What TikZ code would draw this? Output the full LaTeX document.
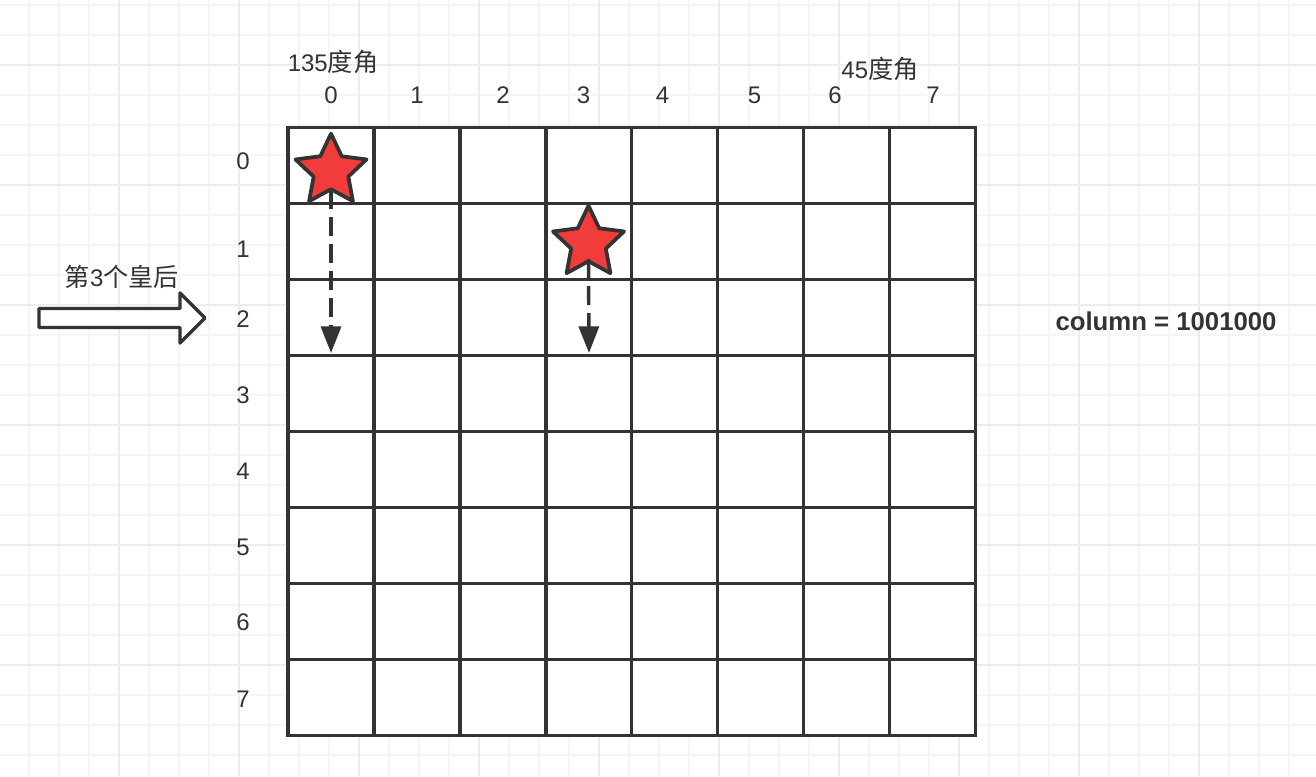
\documentclass[tikz,border=0pt]{standalone}
\usepackage{fontspec}
\setmainfont{Liberation Sans}
\newfontfamily\cjk[Scale=1.05]{Noto Sans CJK SC}
\usetikzlibrary{shapes.geometric,arrows.meta}
\definecolor{ink}{HTML}{333333}
\definecolor{starred}{HTML}{F23B3B}
\definecolor{gminor}{HTML}{F5F5F5}
\definecolor{gmajor}{HTML}{EDEDED}
\begin{document}
\begin{tikzpicture}[x=0.75pt,y=-0.75pt,
  lbl/.style={inner sep=0pt, text=ink, font=\fontsize{18}{21}\selectfont},
  boardline/.style={draw=ink, line width=2.6pt},
  queen/.style={star, star points=5, star point ratio=2.05, minimum size=56pt,
    inner sep=0pt, outer sep=0pt, draw=ink, fill=starred, line width=2.8pt, line join=round},
  dasharrow/.style={draw=ink, line width=2.6pt, dash pattern=on 14.25pt off 6pt,
    -{Triangle[length=20pt,width=15pt]}},
  hollow/.style={draw=ink, fill=white, line width=2.6pt, line join=round},
  bgminor/.style={draw=gminor, line width=1.5pt},
  bgmajor/.style={draw=gmajor, line width=1.5pt}]
\useasboundingbox (0,0) rectangle (1316,776);
\fill[white] (0,0) rectangle (1316,776);
% background grid
\foreach \x in {-1,29,...,1319} \draw[bgminor] (\x,0) -- (\x,776);
\foreach \y in {5,35,...,785} \draw[bgminor] (0,\y) -- (1316,\y);
\foreach \x in {-1,119,...,1199} \draw[bgmajor] (\x,0) -- (\x,776);
\foreach \y in {65,185,...,665} \draw[bgmajor] (0,\y) -- (1316,\y);
% board
\node[boardline, fill=white, minimum width=515.625pt, minimum height=456pt,
  inner sep=0pt, outer sep=0pt, anchor=north west] (board) at (288,127.5) {};
\foreach \i in {1,...,7} {
  \draw[boardline] (288+\i*85.9375,127.5) -- (288+\i*85.9375,735.5);
  \draw[boardline] (288,127.5+\i*76) -- (975.5,127.5+\i*76);
}
% labels
\node[lbl] (a135) at (333,62) {135{\cjk 度角}};
\node[lbl] (a45) at (880,69) {45{\cjk 度角}};
\foreach \n/\x in {0/331,1/417,2/503,3/583.5,4/662.5,5/754.5,6/835,7/933}
  \node[lbl] (c\n) at (\x,95) {\n};
\foreach \n/\y in {0/161.5,1/249,2/319,3/395,4/471,5/547,6/622,7/699}
  \node[lbl] (r\n) at (243,\y) {\n};
\node[lbl] (third) at (122,277) {{\cjk 第}3{\cjk 个皇后}};
\node[lbl, font=\fontsize{19.3}{22}\selectfont\bfseries] (col) at (1166,321) {column = 1001000};
% hollow arrow
\draw[hollow] (39,308.5) -- (180,308.5) -- (180,293) -- (205,318) -- (180,343)
  -- (180,327.5) -- (39,327.5) -- cycle;
% queens
\node[queen] (q0) at (331,171) {};
\node[queen] (q1) at (588.5,243) {};
\coordinate (t0) at (331,353);
\coordinate (t1) at (589,353);
\draw[dasharrow] ([yshift=-14.25pt]q0.center) -- (t0);
\draw[dasharrow] ([yshift=-12pt]q1.center) -- (t1);
\end{tikzpicture}
\end{document}
